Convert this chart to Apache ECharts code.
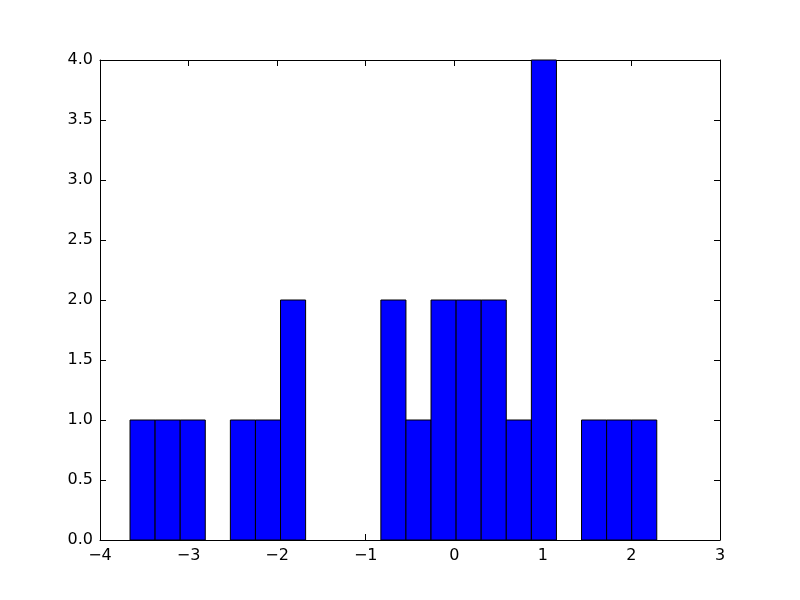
<!DOCTYPE html>
<html>
<head>
<meta charset="utf-8">
<script src="https://cdn.jsdelivr.net/npm/echarts@6/dist/echarts.min.js"></script>
<style>html,body{margin:0;padding:0;background:#fff}#c{width:800px;height:600px}</style>
</head>
<body>
<div id="c"></div>
<script>
// Histogram data
const binStart = -3.661;
const binWidth = 0.2832;
const counts = [1, 1, 1, 0, 1, 1, 2, 0, 0, 0, 2, 1, 2, 2, 2, 1, 4, 0, 1, 1, 1];
const xTicks = [-4, -3, -2, -1, 0, 1, 2, 3];
const yTicks = [0, 0.5, 1, 1.5, 2, 2.5, 3, 3.5, 4];

const bins = counts.map((c, i) => [binStart + i * binWidth, binStart + (i + 1) * binWidth, c]);

const font = 'DejaVu Sans';
const fs = 16;
const lineStyle = { color: '#000', width: 1 };
function xAxisBase(pos, labels) {
  return {
    type: 'value', position: pos, min: xTicks[0], max: xTicks[xTicks.length - 1], interval: 1,
    axisLine: { show: true, onZero: false, lineStyle },
    axisTick: { show: true, inside: true, length: 6, lineStyle },
    splitLine: { show: false },
    axisLabel: { show: labels, color: '#000', fontFamily: font, fontSize: fs, margin: 8,
      formatter: v => String(v).replace('-', '\u2212') }
  };
}
function yAxisBase(pos, labels) {
  return {
    type: 'value', position: pos, min: yTicks[0], max: yTicks[yTicks.length - 1], interval: 0.5,
    axisLine: { show: true, onZero: false, lineStyle },
    axisTick: { show: true, inside: true, length: 6, lineStyle },
    splitLine: { show: false },
    axisLabel: { show: labels, color: '#000', fontFamily: font, fontSize: fs, margin: 7,
      formatter: v => v.toFixed(1) }
  };
}

const chart = echarts.init(document.getElementById('c'), null, { renderer: 'canvas' });
chart.setOption({
  animation: false,
  backgroundColor: '#fff',
  grid: { left: 100, right: 80, top: 60, bottom: 60, containLabel: false },
  xAxis: [xAxisBase('bottom', true), xAxisBase('top', false)],
  yAxis: [yAxisBase('left', true), yAxisBase('right', false)],
  series: [{
    type: 'custom',
    xAxisIndex: 0, yAxisIndex: 0,
    data: bins,
    encode: { x: [0, 1], y: 2 },
    renderItem: function (params, api) {
      const x0 = api.value(0), x1 = api.value(1), c = api.value(2);
      if (!c) return null;
      const p0 = api.coord([x0, c]);
      const p1 = api.coord([x1, 0]);
      return {
        type: 'rect',
        shape: { x: p0[0], y: p0[1], width: p1[0] - p0[0], height: p1[1] - p0[1] },
        style: { fill: '#0000ff', stroke: '#000', lineWidth: 1 }
      };
    }
  }]
});
</script>
</body>
</html>
